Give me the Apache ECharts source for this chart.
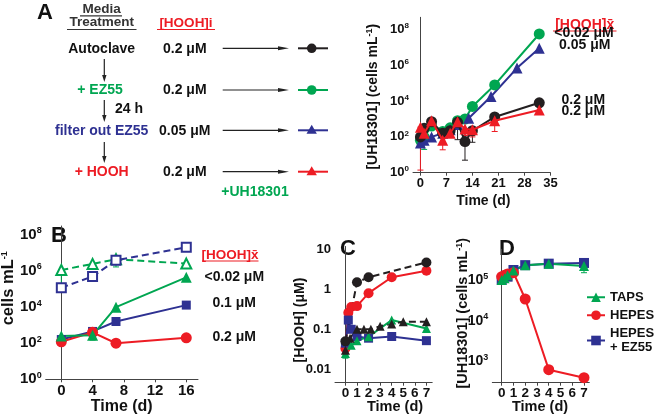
<!DOCTYPE html>
<html><head><meta charset="utf-8">
<script src="https://cdn.jsdelivr.net/npm/echarts@6/dist/echarts.min.js"></script>
<style>html,body{margin:0;padding:0;background:#fff}#c{width:654px;height:420px}</style>
</head><body><div id="c"></div>
<script>
// ---------- DATA ----------
// Panel A : [day, cells/mL]
const aAutoclave = [[0,100],[1,300],[3,700],[6,160],[8,220],[10,650],[12,55],[14,220],[20,1300],[32,8000]];
const aEZ55      = [[0,65],[1,100],[3,400],[6,200],[8,320],[10,800],[12,1000],[14,5000],[20,80000],[32,5.6e7]];
const aFilter    = [[0,45],[1,65],[3,100],[6,160],[8,250],[10,500],[13,1100],[19,18000],[26,7e5],[32,9e6]];
const aHOOH      = [[0,350],[1,160],[3,800],[6,65],[8,160],[10,700],[12,280],[14,250],[20,800],[32,3200]];
const aErrAutoclave = [[12,5,250],[14,50,300],[10,70,650]];
const aErrEZ55      = [[1,20,100]];
const aErrHOOH      = [[0,1.4,350],[6,19,100],[12,120,280],[14,100,250],[20,200,900]];
// Panel B
const bOpenTri   = [[0,1.15e6],[4,2.5e6],[7,4.5e6],[16,2.6e6]];
const bOpenSq    = [[0,1.2e5],[4,5e5],[7,4e6],[16,2.1e7]];
const bTri       = [[0,250],[4,280],[7,1e4],[16,4.5e5]];
const bSq        = [[0,160],[4,450],[7,1600],[16,1.3e4]];
const bCircle    = [[0,120],[4,400],[7,100],[16,200]];
const bErrOpenTri = [[0,1.35e5,1.15e6],[7,1.7e6,4.5e6]];
const bErrTri     = [[4,150,300]];
const bErrCircle  = [[7,60,100]];
// Panel C : [day, HOOH uM]
const cBlackCircle = [[0,0.05],[1,1.5],[2,2.0],[7,4.7]];
const cRed         = [[0,0.033],[0.25,0.26],[0.5,0.36],[1,0.38],[2,0.8],[4,2.0],[7,2.9]];
const cBlue        = [[0,0.045],[0.25,0.17],[0.5,0.1],[1,0.066],[2,0.06],[4,0.066],[7,0.052]];
const cGreen       = [[0,0.025],[0.5,0.04],[1,0.052],[2,0.065],[4,0.17],[7,0.105]];
const cBlackTri    = [[0,0.03],[0.4,0.06],[1,0.1],[1.6,0.1],[2.2,0.1],[3,0.12],[4,0.136],[5,0.155],[7,0.155]];
const cErrGreen    = [[0,0.019,0.03]];
// Panel D
const dTAPS  = [[0,1.0e5],[0.25,1.1e5],[0.5,1.3e5],[1,1.7e5],[2,2.3e5],[4,2.5e5],[7,2.2e5]];
const dHEPES = [[0,1.2e5],[0.25,1.3e5],[0.5,1.4e5],[1,1.5e5],[2,3.4e4],[4,630],[7,400]];
const dHEPESEZ = [[0,1.0e5],[0.5,1.2e5],[1,1.75e5],[2,2.3e5],[4,2.5e5],[7,2.6e5]];
const dErrTAPS = [[7,1.5e5,2.6e5]];
// Tick labels
const aTicksX = [0,7,14,21,28,35];
const aTicksY = [1,1e2,1e4,1e6,1e8];
const bTicksX = [0,4,8,12,16];
const bTicksY = [1,1e2,1e4,1e6,1e8];
const cTicksX = [0,1,2,3,4,5,6,7];
const cTicksY = [0.01,0.1,1,10];
const dTicksX = [0,1,2,3,4,5,6,7];
const dTicksY = [1e3,1e4,1e5];
const dLegend = ['TAPS','HEPES','HEPES\n+ EZ55'];

// ---------- STYLE ----------
const FONT = '"Liberation Sans", Arial, Helvetica, sans-serif';
const BLACK='#231f20', GREEN='#00a651', BLUE='#2e3192', RED='#ed1c24', AX='#444';

function expLabel(v){ const e=Math.round(Math.log10(v)); return '10{s|'+e+'}'; }
function decLabel(v){ return String(v); }
function xAxis(grid,min,max,ticks,fs){
  return {type:'value',gridIndex:grid,min:min,max:max,
    axisLine:{show:true,onZero:false,lineStyle:{color:AX,width:1}},
    axisTick:{show:true,length:3,customValues:ticks,lineStyle:{color:AX}},
    splitLine:{show:false},
    axisLabel:{customValues:ticks,fontFamily:FONT,fontWeight:'bold',fontSize:fs,color:'#111',margin:4,formatter:v=>String(v)}};
}
function yAxis(grid,min,max,ticks,fmt,fs){
  return {type:'log',logBase:10,gridIndex:grid,min:min,max:max,
    axisLine:{show:true,lineStyle:{color:AX,width:1}},
    axisTick:{show:false,customValues:ticks},
    splitLine:{show:false},
    axisLabel:{customValues:ticks,fontFamily:FONT,fontWeight:'bold',fontSize:fs,color:'#111',margin:4,formatter:fmt,
      rich:{s:{fontSize:Math.round(fs*0.62),fontWeight:'bold',fontFamily:FONT,color:'#111',padding:[0,0,fs*0.55,0]}}}};
}
function line(name,data,gi,color,symbol,size,opts){
  opts=opts||{};
  return {type:'line',name:name,data:data,xAxisIndex:gi,yAxisIndex:gi,symbol:symbol,symbolSize:size,
    itemStyle:{color:color,borderColor:color,borderWidth:opts.bw||0},
    lineStyle:{color:color,width:opts.lw||2,type:opts.dash||'solid'},
    emphasis:{disabled:true},z:opts.z||3,clip:false};
}
function err(data,gi,color){
  return {type:'custom',data:data,xAxisIndex:gi,yAxisIndex:gi,silent:true,z:2,
    encode:{x:0,y:[1,2]},
    renderItem:function(p,api){
      const x=api.value(0),lo=api.value(1),hi=api.value(2);
      const a=api.coord([x,lo]),b=api.coord([x,hi]);const w=3;
      const st={stroke:color,lineWidth:1};
      return {type:'group',children:[
        {type:'line',shape:{x1:a[0],y1:a[1],x2:b[0],y2:b[1]},style:st},
        {type:'line',shape:{x1:a[0]-w,y1:a[1],x2:a[0]+w,y2:a[1]},style:st},
        {type:'line',shape:{x1:b[0]-w,y1:b[1],x2:b[0]+w,y2:b[1]},style:st}]};
    }};
}
function txt(x,y,text,color,fs,align,extra){
  const e={type:'text',x:x,y:y,silent:true,style:{text:text,fill:color,fontFamily:FONT,fontWeight:'bold',fontSize:fs,
    align:align||'center',verticalAlign:'middle',textAlign:align||'center',textVerticalAlign:'middle'}};
  if(extra) Object.assign(e,extra);
  return e;
}
function ul(x1,x2,y,color){ return {type:'line',silent:true,shape:{x1:x1,y1:y,x2:x2,y2:y},style:{stroke:color,lineWidth:1.2}}; }
function arrowDown(x,y1,y2){ return [
  {type:'line',silent:true,shape:{x1:x,y1:y1,x2:x,y2:y2-4},style:{stroke:'#222',lineWidth:1.2}},
  {type:'polygon',silent:true,shape:{points:[[x,y2],[x-2.2,y2-7],[x+2.2,y2-7]]},style:{fill:'#222'}}]; }
function arrowRight(x1,x2,y){ return [
  {type:'line',silent:true,shape:{x1:x1,y1:y,x2:x2-6,y2:y},style:{stroke:'#222',lineWidth:1.2}},
  {type:'polygon',silent:true,shape:{points:[[x2,y],[x2-11,y-2],[x2-11,y+2]]},style:{fill:'#222'}}]; }
function key(y,color,shape){
  const g=[{type:'line',silent:true,shape:{x1:298,y1:y,x2:328,y2:y},style:{stroke:color,lineWidth:2}}];
  if(shape==='circle') g.push({type:'circle',silent:true,shape:{cx:311.7,cy:y,r:4.8},style:{fill:color}});
  else g.push({type:'polygon',silent:true,shape:{points:[[311.7,y-5.5],[306.5,y+3.5],[316.9,y+3.5]]},style:{fill:color}});
  return g;
}
const supRich={s:{fontSize:9,fontWeight:'bold',fontFamily:FONT,fill:'#111',padding:[0,0,7,0]}};
function ytitle(x,y,text,fs){
  return {type:'text',x:x,y:y,rotation:Math.PI/2,silent:true,style:{text:text,fill:'#111',fontFamily:FONT,fontWeight:'bold',fontSize:fs,
    align:'center',verticalAlign:'middle',textAlign:'center',textVerticalAlign:'middle',rich:supRich}};
}

const graphic=[].concat(
  [txt(45,13,'A','#111',22),
   txt(101.7,9.5,'Media','#333',13.5), ul(80,122,15.8,'#333'),
   txt(101.7,22.7,'Treatment','#333',13.5), ul(67,136.5,29.5,'#333'),
   txt(186,23,'[HOOH]i',RED,13.5), ul(157,215,29.5,RED),
   txt(101.7,49.3,'Autoclave','#111',14),
   txt(100,90,'+ EZ55',GREEN,14),
   txt(115,109,'24 h','#111',14,'left'),
   txt(101.7,131,'filter out EZ55',BLUE,14),
   txt(101.7,172,'+ HOOH',RED,14),
   txt(163,49,'0.2 μM','#111',14,'left'),
   txt(163,90,'0.2 μM','#111',14,'left'),
   txt(159,131,'0.05 μM','#111',14,'left'),
   txt(163,172,'0.2 μM','#111',14,'left'),
   txt(255,192.3,'+UH18301',GREEN,14)],
  arrowDown(104.3,59,82), arrowDown(104.3,100,122), arrowDown(104.3,142,163),
  arrowRight(222.7,289,48.3), arrowRight(222.7,289,90), arrowRight(222.7,289,130.3), arrowRight(222.7,289,171.7),
  key(48.3,BLACK,'circle'), key(90,GREEN,'circle'), key(130.3,BLUE,'tri'), key(171.7,RED,'tri'),
  // panel A right labels
  [txt(584.7,25,'[HOOH]x̄',RED,14), ul(553,616.5,31,RED),
   txt(584,33.5,'<0.02 μM','#111',14),
   txt(584.7,45.3,'0.05 μM','#111',14),
   txt(583.3,100,'0.2 μM','#111',14),
   txt(583.3,111,'0.2 μM','#111',14),
   ytitle(372.7,96.7,'[UH18301] (cells mL{s|-1})',14),
   txt(483.3,201,'Time (d)','#111',14)],
  // panel B
  [txt(59,236,'B','#111',22),
   ytitle(8.5,288.3,'cells mL{s|-1}',16.5),
   txt(121.7,406.5,'Time (d)','#111',16),
   txt(230,255,'[HOOH]x̄',RED,13.5), ul(202,258.5,261,RED),
   txt(234.3,276.7,'<0.02 μM','#111',14),
   txt(234.2,303.3,'0.1 μM','#111',14),
   txt(234.2,337.3,'0.2 μM','#111',14)],
  // panel C
  [txt(348,249,'C','#111',22),
   ytitle(300,320,'[HOOH] (μM)',14),
   txt(395,406.7,'Time (d)','#111',14.5)],
  // panel D
  [txt(507,249,'D','#111',22),
   ytitle(463.3,313.3,'[UH18301] (cells mL{s|-1})',14.5),
   txt(540,406.7,'Time (d)','#111',14.5)]
);

const option={
  animation:false,
  backgroundColor:'#fff',
  grid:[
    {left:413,top:17.3,width:137.4,height:155.4},
    {left:45.7,top:226,width:152.3,height:153.3},
    {left:335,top:246.5,width:97.2,height:136.2},
    {left:492.3,top:249.3,width:97,height:133.4}
  ],
  xAxis:[
    xAxis(0,-2,35,aTicksX,13),
    xAxis(1,-2,17.5,bTicksX,15),
    xAxis(2,-0.9,7.5,cTicksX,13.5),
    xAxis(3,-0.8,7.45,dTicksX,13.5)
  ],
  yAxis:[
    yAxis(0,1,4.786e8,aTicksY,expLabel,13),
    yAxis(1,1,3.162e8,bTicksY,expLabel,15),
    yAxis(2,0.004624,11.75,cTicksY,decLabel,13),
    yAxis(3,302,562341,dTicksY,expLabel,14)
  ],
  legend:{data:dLegend,orient:'vertical',left:586,top:290,padding:0,itemWidth:18,itemHeight:12,itemGap:3.5,
    textStyle:{fontFamily:FONT,fontWeight:'bold',fontSize:13,color:'#111',lineHeight:14.5},
    selectedMode:false},
  graphic:graphic,
  series:[
    err(aErrAutoclave,0,BLACK), err(aErrEZ55,0,GREEN), err(aErrHOOH,0,RED),
    line('A-EZ55',aEZ55,0,GREEN,'circle',11),
    line('A-filter',aFilter,0,BLUE,'triangle',11),
    line('A-autoclave',aAutoclave,0,BLACK,'circle',11,{z:4}),
    line('A-HOOH',aHOOH,0,RED,'triangle',11,{z:5}),
    err(bErrOpenTri,1,GREEN), err(bErrTri,1,GREEN), err(bErrCircle,1,RED),
    line('B-opentri',bOpenTri,1,GREEN,'emptyTriangle',10,{dash:[7,4],bw:1.2}),
    line('B-opensq',bOpenSq,1,BLUE,'emptyRect',9,{dash:[7,4],bw:1.2}),
    line('B-sq',bSq,1,BLUE,'rect',9),
    line('B-circle',bCircle,1,RED,'circle',11),
    line('B-tri',bTri,1,GREEN,'triangle',11),
    err(cErrGreen,2,GREEN),
    line('C-red',cRed,2,RED,'circle',10),
    line('C-blue',cBlue,2,BLUE,'rect',9),
    line('C-green',cGreen,2,GREEN,'triangle',9),
    line('C-blacktri',cBlackTri,2,BLACK,'triangle',9,{dash:[7,4]}),
    line('C-blackcircle',cBlackCircle,2,BLACK,'circle',10,{dash:[7,4]}),
    err(dErrTAPS,3,GREEN),
    line('HEPES\n+ EZ55',dHEPESEZ,3,BLUE,'rect',10),
    line('HEPES',dHEPES,3,RED,'circle',11),
    line('TAPS',dTAPS,3,GREEN,'triangle',10)
  ]
};
const chart=echarts.init(document.getElementById('c'),null,{renderer:'canvas'});
chart.setOption(option);
</script></body></html>
